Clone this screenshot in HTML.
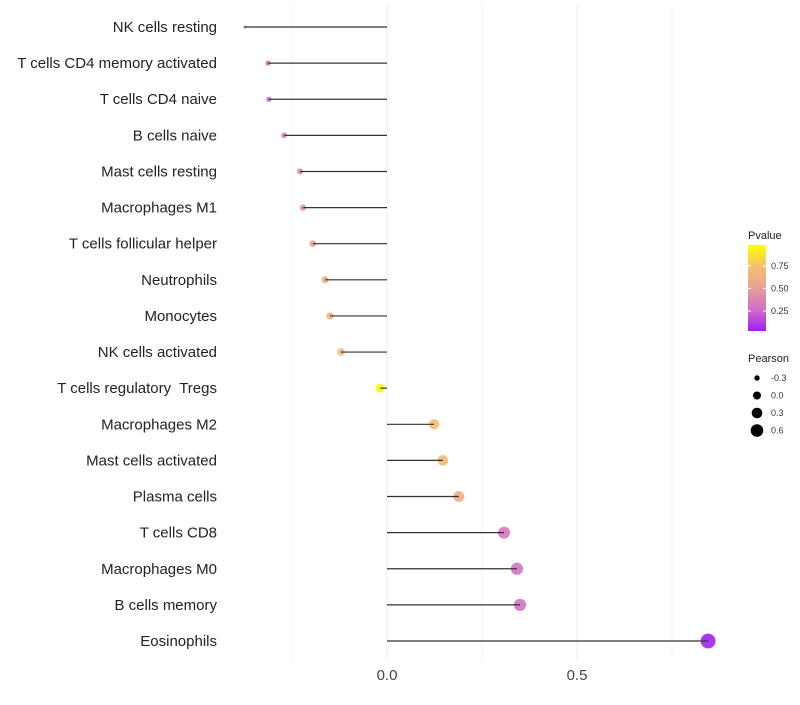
<!DOCTYPE html>
<html><head><meta charset="utf-8"><style>
body{margin:0;background:#fff;font-family:"Liberation Sans",sans-serif}
text{white-space:pre}
</style></head><body>
<svg id="chart" width="800" height="700" xmlns="http://www.w3.org/2000/svg"></svg>
<script>
const categories=["NK cells resting","T cells CD4 memory activated","T cells CD4 naive","B cells naive","Mast cells resting","Macrophages M1","T cells follicular helper","Neutrophils","Monocytes","NK cells activated","T cells regulatory  Tregs","Macrophages M2","Mast cells activated","Plasma cells","T cells CD8","Macrophages M0","B cells memory","Eosinophils"];
const pearson=[-0.374,-0.313,-0.311,-0.271,-0.229,-0.221,-0.195,-0.163,-0.150,-0.121,-0.018,0.124,0.147,0.189,0.308,0.342,0.350,0.845];
const pvalues=[0.2,0.25,0.25,0.35,0.45,0.45,0.5,0.6,0.65,0.7,0.98,0.75,0.72,0.6,0.3,0.27,0.28,0.0];
const xTicks=[0,0.5];
const xTickLabels=["0.0","0.5"];
const gridMinor=[-0.25,0.25,0.75];
const colorTicks=[0.25,0.5,0.75];
const sizeLegend=[-0.3,0.0,0.3,0.6];

const svg=document.getElementById('chart');
const NS='http://www.w3.org/2000/svg';
function mk(t,a,txt){const e=document.createElementNS(NS,t);for(const k in a)e.setAttribute(k,a[k]);if(txt!==undefined)e.textContent=txt;svg.appendChild(e);return e;}
const x=v=>387+v*380;
const y=i=>27+i*(641-27)/17;
const rAnch=[[-0.374,1.5],[-0.313,2.6],[-0.15,3.6],[0.124,5.2],[0.308,6.0],[0.845,7.4]];
function rad(p){if(p<=rAnch[0][0])return rAnch[0][1];for(let i=1;i<rAnch.length;i++){if(p<=rAnch[i][0]){const a=rAnch[i-1],b=rAnch[i];return a[1]+(b[1]-a[1])*(p-a[0])/(b[0]-a[0]);}}return rAnch[rAnch.length-1][1];}
const stops=[[0,[160,32,240]],[0.25,[208,110,200]],[0.5,[232,160,150]],[0.75,[244,192,112]],[1,[255,255,0]]];
function col(p){for(let i=1;i<stops.length;i++){if(p<=stops[i][0]){const a=stops[i-1],b=stops[i];const t=(p-a[0])/(b[0]-a[0]);const c=a[1].map((v,k)=>Math.round(v+(b[1][k]-v)*t));return `rgb(${c})`;}}return 'rgb(255,255,0)';}

for(const g of gridMinor){const l=mk('line',{x1:x(g),x2:x(g),y1:5,y2:660,stroke:'#f3f3f3','stroke-width':1});}
xTicks.forEach((t,i)=>{const l=mk('line',{x1:x(t),x2:x(t),y1:5,y2:660,stroke:'#ebebeb','stroke-width':1});
const tx=mk('text',{x:x(t),y:680,'text-anchor':'middle','font-size':15,fill:'#444'},xTickLabels[i]);});

categories.forEach((c,i)=>{
const tx=mk('text',{x:217,y:y(i)+5,'text-anchor':'end','font-size':15,fill:'#222'},c);

const p=mk('circle',{cx:x(pearson[i]),cy:y(i),r:rad(pearson[i]),fill:col(pvalues[i]),'fill-opacity':0.9});

const l=mk('line',{x1:x(0),x2:x(pearson[i]),y1:y(i),y2:y(i),stroke:'#333','stroke-width':1.2});

});

const defs=mk('defs',{});
const lg=document.createElementNS(NS,'linearGradient');lg.setAttribute('id','pg');lg.setAttribute('x1','0');lg.setAttribute('y1','1');lg.setAttribute('x2','0');lg.setAttribute('y2','0');defs.appendChild(lg);
for(const s of stops){const st=document.createElementNS(NS,'stop');st.setAttribute('offset',s[0]);st.setAttribute('stop-color',col(s[0]));lg.appendChild(st);}
const lt=mk('text',{x:748,y:239,'font-size':11,fill:'#222'},'Pvalue');
const cb=mk('rect',{x:748,y:245,width:18,height:86,fill:'url(#pg)'});
const cy=v=>331-(v-0.03)/(0.98-0.03)*86;
for(const t of colorTicks){mk('line',{x1:748,x2:751,y1:cy(t),y2:cy(t),stroke:'#fff'});mk('line',{x1:763,x2:766,y1:cy(t),y2:cy(t),stroke:'#fff'});
const tx=mk('text',{x:771,y:cy(t)+3,'font-size':9,fill:'#333'},t.toFixed(2));}
const st=mk('text',{x:748,y:362,'font-size':11,fill:'#222'},'Pearson');
sizeLegend.forEach((s,i)=>{const yy=378+i*17.5;
const c=mk('circle',{cx:757,cy:yy,r:[2.7,4,5.3,6.3][i],fill:'#000'});
const tx=mk('text',{x:771,y:yy+3,'font-size':9,fill:'#333'},s.toFixed(1));});
</script>
</body></html>
